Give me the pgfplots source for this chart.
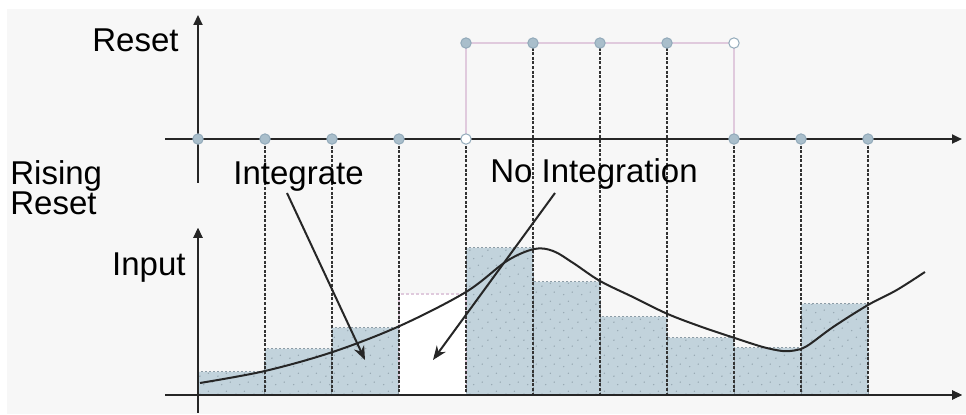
\documentclass[border=0pt]{standalone}
\usepackage{fontspec}
\setmainfont{Liberation Sans}
\usepackage{pgfplots}
\pgfplotsset{compat=1.18}
\usetikzlibrary{arrows.meta,patterns.meta}

\definecolor{PanelGray}{HTML}{F7F7F7}
\definecolor{BarFill}{HTML}{C2D3DC}
\definecolor{BarEdge}{HTML}{8C9CA6}
\definecolor{DotGray}{HTML}{95A6B0}
\definecolor{MarkFill}{HTML}{A9BECB}
\definecolor{MarkEdge}{HTML}{92AABA}
\definecolor{PinkLine}{HTML}{E0CADD}
\definecolor{LowBlue}{HTML}{C3D5E0}

\tikzdeclarepattern{
  name=sparsedots,
  type=uncolored,
  bottom left={(0pt,0pt)},
  top right={(9pt,9pt)},
  tile size={(9pt,9pt)},
  code={
    \fill (1pt,1.5pt) circle (0.4pt);
    \fill (5.5pt,3pt) circle (0.4pt);
    \fill (3pt,6.5pt) circle (0.4pt);
    \fill (7.5pt,7.8pt) circle (0.4pt);
  }
}

\tikzset{
  guide/.style={black!80, line width=0.8pt, dash pattern=on 1.5pt off 0.8pt},
  lbl/.style={inner sep=0pt, font=\fontsize{16.5pt}{19pt}\selectfont},
  callout/.style={line width=1pt, black!85, -{Stealth[length=7pt,width=5.5pt]}},
}

\pgfplotsset{
  sigaxis/.style={
    scale only axis, anchor=south west, width=398.5pt,
    xmin=-0.4925, xmax=11.403,
    axis lines=middle,
    axis line style={line width=1pt, black!85, -{Triangle[length=5pt,width=4.5pt]}},
    xtick=\empty, ytick=\empty,
    enlargelimits=false, clip=false, axis on top,
  },
}

\begin{document}
\begin{tikzpicture}
\useasboundingbox (0pt,0pt) rectangle (483pt,-207.5pt);
\fill[white] (0pt,0pt) rectangle (483pt,-207.5pt);
\fill[PanelGray] (3.5pt,-4.5pt) rectangle (483pt,-207pt);

% Input and held samples
\begin{axis}[sigaxis, at={(82.5pt,-206.5pt)}, height=92.5pt,
  ymin=-1.8, ymax=16.7]
\addplot[ybar interval, fill=BarFill, draw=BarEdge, line width=0.5pt,
  dash pattern=on 1pt off 1pt,
  postaction={pattern=sparsedots, pattern color=DotGray}]
  coordinates {(0,2.3) (1,4.6) (2,6.7) (3,0) (4,14.7) (5,11.3) (6,7.8)
               (7,5.7) (8,4.7) (9,9.1) (10,0)};
\addplot[ybar interval, fill=white, draw=PinkLine, line width=0.6pt,
  dash pattern=on 1.5pt off 1pt]
  coordinates {(3,10.1) (4,10.1)};
\pgfplotsinvokeforeach{1,2,3,4,5,6,7,8,9,10}{\coordinate (b#1) at (axis cs:#1,0);}
\end{axis}

% Reset signal: coordinates of the samples
\begin{axis}[sigaxis, at={(82.5pt,-91.5pt)}, height=84pt,
  ymin=-0.458, ymax=1.292, hide axis]
\pgfplotsinvokeforeach{1,2,3,4,8,9,10}{\coordinate (r#1) at (axis cs:#1,-0.02);}
\pgfplotsinvokeforeach{5,6,7}{\coordinate (r#1) at (axis cs:#1,1);}
\end{axis}

% sample guides
\foreach \k in {1,...,10} {\draw[guide] (r\k) -- (b\k);}

% Reset signal
\begin{axis}[sigaxis, at={(82.5pt,-91.5pt)}, height=84pt,
  ymin=-0.458, ymax=1.292]
\addplot[LowBlue, line width=0.7pt] coordinates {(0,0) (4,0)};
\addplot[LowBlue, line width=0.7pt] coordinates {(8,0) (10.8,0)};
\addplot[PinkLine, line width=0.7pt] coordinates {(4,0) (4,1) (8,1) (8,0)};
\addplot[only marks, mark=*, mark size=2.6pt,
  mark options={fill=MarkFill, draw=MarkEdge, line width=0.5pt}]
  coordinates {(0,0) (1,0) (2,0) (3,0) (4,1) (5,1) (6,1) (7,1) (8,0) (9,0) (10,0)};
\addplot[only marks, mark=*, mark size=2.6pt,
  mark options={fill=white, draw=MarkEdge, line width=0.5pt}]
  coordinates {(4,0) (8,1)};
\end{axis}

% Input curve and axes on top of the guides
\begin{axis}[sigaxis, at={(82.5pt,-206.5pt)}, height=92.5pt,
  ymin=-1.8, ymax=16.7]
\addplot[black!85, line width=1pt, smooth, tension=0.55] coordinates {
  (0.03,1.2) (1,2.4) (2.01,4.3) (3.01,6.9) (4,10.3) (4.61,13.4) (5.02,14.6)
  (5.3,14.4) (5.6,13.2) (6,11.4) (6.49,9.8) (7.01,8.1) (7.52,6.8) (8.01,5.7)
  (8.43,4.8) (8.72,4.4) (8.9,4.45) (9.09,4.9) (9.48,6.8) (10,9.0)
  (10.43,10.5) (10.85,12.3)};
\end{axis}

% labels and callouts
\begin{scope}[x=0.5pt, y=-0.5pt]
\node[lbl, anchor=base east] at (179,52) {Reset};
\node[lbl, anchor=base west] at (10,185) {Rising};
\node[lbl, anchor=base west] at (10,215) {Reset};
\node[lbl, anchor=base east] at (186,276) {Input};
\node[lbl, anchor=base west] at (233,185) {Integrate};
\node[lbl, anchor=base west] at (490,183) {No Integration};
\draw[callout] (287,193) -- (365,360);
\draw[callout] (555,193) -- (433,360);
\end{scope}
\end{tikzpicture}
\end{document}
